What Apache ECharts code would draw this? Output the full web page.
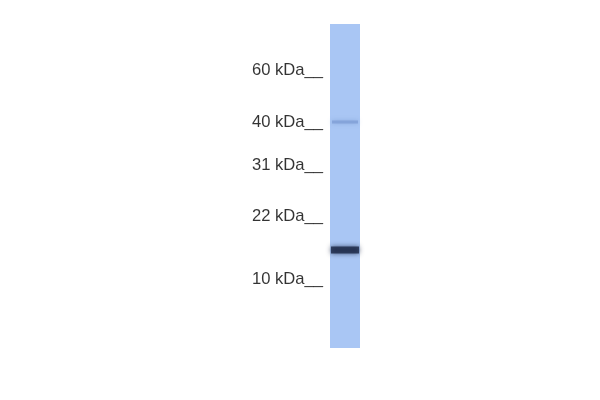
<!DOCTYPE html>
<html>
<head>
<meta charset="utf-8">
<script src="https://cdn.jsdelivr.net/npm/echarts@6/dist/echarts.min.js"></script>
<style>html,body{margin:0;padding:0;background:#fff}#c{width:600px;height:400px}</style>
</head>
<body>
<div id="c"></div>
<script>
// Lane length in migration units (top of lane = 0)
const laneLength = 324;
const laneName = ['lane'];
// Molecular weight markers and their migration positions
const markerLabels = ['60 kDa', '40 kDa', '31 kDa', '22 kDa', '10 kDa'];
const markerPos = [46, 98, 141, 192, 255];
// Detected bands: position and relative intensity
const bandPos = [98, 226];
const bandIntensity = [0.3, 1];

const chart = echarts.init(document.getElementById('c'));
chart.setOption({
  animation: false,
  backgroundColor: '#ffffff',
  grid: { left: 330, top: 24, width: 30, height: 324 },
  xAxis: { type: 'category', data: laneName, show: false },
  yAxis: { type: 'value', inverse: true, min: 0, max: laneLength, show: false },
  series: [
    {
      type: 'bar', data: [laneLength], barWidth: '100%', silent: true,
      itemStyle: { color: '#a9c6f4' }, z: 1
    },
    {
      type: 'scatter', silent: true, z: 3,
      symbol: 'rect',
      data: bandPos.map((p, i) => ({
        value: ['lane', p],
        symbolSize: bandIntensity[i] > 0.5 ? [28, 7] : [26, 3],
        itemStyle: {
          color: bandIntensity[i] > 0.5 ? '#1a2745' : '#7f9fd6',
          shadowBlur: bandIntensity[i] > 0.5 ? 5 : 4,
          shadowColor: bandIntensity[i] > 0.5 ? 'rgba(26,39,69,0.9)' : 'rgba(127,159,214,0.9)'
        }
      }))
    },
    {
      type: 'scatter', silent: true, z: 4,
      symbolSize: 0,
      data: markerPos.map((p, i) => ({ value: ['lane', p], name: markerLabels[i] })),
      label: {
        show: true, position: 'left', distance: 22,
        formatter: p => p.name + '__',
        fontFamily: 'Liberation Sans, Arial, sans-serif',
        fontSize: 16.6, color: '#000000'
      }
    }
  ]
});
</script>
</body>
</html>
